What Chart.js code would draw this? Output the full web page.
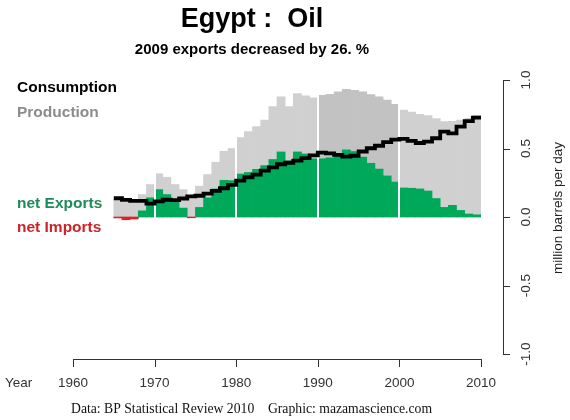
<!DOCTYPE html>
<html>
<head>
<meta charset="utf-8">
<script src="https://cdn.jsdelivr.net/npm/chart.js@4.4.1/dist/chart.umd.min.js"></script>
<style>
  body { margin: 0; background: #fff; }
  #wrap { width: 570px; height: 420px; }
</style>
</head>
<body>
<div id="wrap"><canvas id="myChart"></canvas></div>
<script>
// Egypt oil, million barrels per day
const years = [1965, 1966, 1967, 1968, 1969, 1970, 1971, 1972, 1973, 1974,
               1975, 1976, 1977, 1978, 1979, 1980, 1981, 1982, 1983, 1984,
               1985, 1986, 1987, 1988, 1989, 1990, 1991, 1992, 1993, 1994,
               1995, 1996, 1997, 1998, 1999, 2000, 2001, 2002, 2003, 2004,
               2005, 2006, 2007, 2008, 2009]
const production = [0.130, 0.108, 0.105, 0.164, 0.237, 0.316, 0.290, 0.237, 0.200, 0.145,
                    0.225, 0.310, 0.400, 0.480, 0.500, 0.580, 0.623, 0.660, 0.708, 0.806,
                    0.877, 0.806, 0.900, 0.884, 0.870, 0.889, 0.896, 0.913, 0.932, 0.925,
                    0.913, 0.894, 0.877, 0.853, 0.822, 0.780, 0.765, 0.750, 0.740, 0.718,
                    0.696, 0.698, 0.708, 0.720, 0.742]
const consumption = [0.137, 0.125, 0.118, 0.117, 0.097, 0.114, 0.126, 0.123, 0.135, 0.150,
                     0.155, 0.170, 0.190, 0.210, 0.235, 0.266, 0.290, 0.310, 0.338, 0.362,
                     0.385, 0.396, 0.412, 0.430, 0.450, 0.470, 0.464, 0.454, 0.440, 0.447,
                     0.478, 0.502, 0.520, 0.546, 0.565, 0.570, 0.556, 0.540, 0.550, 0.575,
                     0.623, 0.611, 0.660, 0.700, 0.725]
const netTrade = [-0.007, -0.020, -0.015, 0.045, 0.140, 0.200, 0.164, 0.114, 0.065, -0.006,
                  0.070, 0.140, 0.205, 0.268, 0.266, 0.314, 0.325, 0.348, 0.375, 0.420,
                  0.475, 0.410, 0.475, 0.460, 0.425, 0.425, 0.432, 0.450, 0.490, 0.478,
                  0.437, 0.392, 0.350, 0.300, 0.255, 0.212, 0.210, 0.205, 0.190, 0.135,
                  0.070, 0.085, 0.048, 0.022, 0.016]

const xTicks = [1960, 1970, 1980, 1990, 2000, 2010]
const yTicks = [-1.0, -0.5, 0.0, 0.5, 1.0]
const yTickLabels = ['-1.0', '-0.5', '0.0', '0.5', '1.0']
const decadeLines = [1970, 1980, 1990, 2000]
const peakDecade = [1990, 1999]

const SANS = '"Liberation Sans", Arial, sans-serif'
const SERIF = '"Liberation Serif", "Times New Roman", serif'

// R-style axes, titles and margin labels
const rStyle = {
    id: 'rStyle',
    beforeDatasetDraw(chart, args) {
        if (chart.data.datasets[args.index].type !== 'line') return
        const {ctx, chartArea, scales} = chart
        ctx.save()
        ctx.strokeStyle = '#ffffff'
        ctx.lineWidth = 2
        decadeLines.forEach(yr => {
            const px = Math.round(scales.x.getPixelForValue(yr))
            ctx.beginPath()
            ctx.moveTo(px, chartArea.top)
            ctx.lineTo(px, chartArea.bottom)
            ctx.stroke()
        })
        ctx.restore()
    },
    afterDraw(chart) {
        const {ctx, chartArea, scales} = chart
        const x = scales.x, y = scales.y
        ctx.save()

        // titles
        ctx.textAlign = 'center'
        ctx.textBaseline = 'alphabetic'
        ctx.fillStyle = '#000'
        ctx.font = 'bold 27px ' + SANS
        ctx.fillText('Egypt :  Oil', 252, 27)
        ctx.font = 'bold 15px ' + SANS
        ctx.fillText('2009 exports decreased by 26. %', 252, 54)

        // margin legend
        ctx.textAlign = 'left'
        ctx.font = 'bold 15.5px ' + SANS
        ctx.fillStyle = '#000'
        ctx.fillText('Consumption', 17, 92)
        ctx.fillStyle = '#8c8c8c'
        ctx.fillText('Production', 17, 117)
        ctx.fillStyle = '#1f8b5a'
        ctx.fillText('net Exports', 17, 208)
        ctx.fillStyle = '#cc2229'
        ctx.fillText('net Imports', 17, 232)

        // x axis
        const ax = chartArea.bottom + 5
        ctx.strokeStyle = '#333'
        ctx.lineWidth = 1
        ctx.beginPath()
        ctx.moveTo(x.getPixelForValue(xTicks[0]), ax + 0.5)
        ctx.lineTo(x.getPixelForValue(xTicks[xTicks.length - 1]), ax + 0.5)
        xTicks.forEach(t => {
            const px = Math.round(x.getPixelForValue(t)) + 0.5
            ctx.moveTo(px, ax)
            ctx.lineTo(px, ax + 8)
        })
        ctx.stroke()
        ctx.fillStyle = '#333'
        ctx.font = '13.5px ' + SANS
        ctx.textAlign = 'center'
        xTicks.forEach(t => ctx.fillText(String(t), x.getPixelForValue(t), ax + 28))
        ctx.textAlign = 'left'
        ctx.fillText('Year', 5, ax + 28)

        // y axis on the right
        const ay = chartArea.right + 22
        ctx.beginPath()
        ctx.moveTo(ay + 0.5, y.getPixelForValue(yTicks[0]))
        ctx.lineTo(ay + 0.5, y.getPixelForValue(yTicks[yTicks.length - 1]))
        yTicks.forEach(t => {
            const py = Math.round(y.getPixelForValue(t)) + 0.5
            ctx.moveTo(ay, py)
            ctx.lineTo(ay + 7, py)
        })
        ctx.stroke()
        ctx.textAlign = 'center'
        yTicks.forEach((t, i) => {
            ctx.save()
            ctx.translate(ay + 27, y.getPixelForValue(t))
            ctx.rotate(-Math.PI / 2)
            ctx.fillText(yTickLabels[i], 0, 0)
            ctx.restore()
        })
        ctx.save()
        ctx.translate(558, 208)
        ctx.rotate(-Math.PI / 2)
        ctx.textBaseline = 'middle'
        ctx.fillStyle = '#222'
        ctx.fillText('million barrels per day', 0, 0)
        ctx.restore()

        // caption
        ctx.textAlign = 'left'
        ctx.fillStyle = '#111'
        ctx.font = '13.7px ' + SERIF
        ctx.fillText('Data: BP Statistical Review 2010    Graphic: mazamascience.com', 71, 413)

        ctx.restore()
    }
}

const ctx = document.getElementById('myChart')
const chart = new Chart(ctx, {
    type: 'bar',
    data: {
        datasets: [
            {
                type: 'line',
                label: 'Consumption',
                data: years.map((yr, i) => ({x: yr, y: consumption[i]}))
                    .concat([{x: years[years.length - 1] + 1, y: consumption[consumption.length - 1]}]),
                stepped: true,
                borderColor: '#000000',
                borderWidth: 3.8,
                pointRadius: 0,
                fill: false,
                order: 1
            },
            {
                label: 'net Exports',
                data: years.map((yr, i) => ({x: yr + 0.5, y: netTrade[i]})),
                backgroundColor: c => (c.raw && c.raw.y < 0) ? '#e0202a' : '#00a85a',
                grouped: false,
                barPercentage: 1,
                categoryPercentage: 1,
                borderWidth: 0,
                order: 2
            },
            {
                label: 'Production',
                data: years.map((yr, i) => ({x: yr + 0.5, y: production[i]})),
                backgroundColor: c => (c.raw && c.raw.x > peakDecade[0] && c.raw.x < peakDecade[1] + 1) ? '#c2c2c2' : '#d0d0d0',
                grouped: false,
                barPercentage: 1,
                categoryPercentage: 1,
                borderWidth: 0,
                order: 3
            }
        ]
    },
    options: {
        responsive: true,
        maintainAspectRatio: false,
        animation: false,
        layout: {
            padding: {left: 73, right: 89, top: 80, bottom: 66}
        },
        scales: {
            x: {
                type: 'linear',
                min: 1960,
                max: 2010,
                offset: false,
                display: false
            },
            y: {
                min: -1,
                max: 1,
                display: false
            }
        },
        plugins: {
            legend: {display: false},
            title: {display: false},
            tooltip: {enabled: false}
        }
    },
    plugins: [rStyle]
});
</script>
</body>
</html>
